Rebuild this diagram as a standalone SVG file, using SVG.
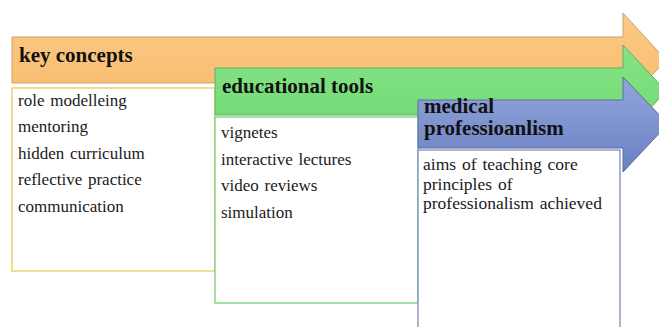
<svg xmlns="http://www.w3.org/2000/svg" width="659" height="327" viewBox="0 0 659 327">
  <defs>
    <linearGradient id="gOrange" x1="0" y1="0" x2="0" y2="1">
      <stop offset="0" stop-color="#fcc884"/>
      <stop offset="1" stop-color="#f8bd6e"/>
    </linearGradient>
    <linearGradient id="gGreen" x1="0" y1="0" x2="0" y2="1">
      <stop offset="0" stop-color="#86e486"/>
      <stop offset="1" stop-color="#6fd873"/>
    </linearGradient>
    <linearGradient id="gBlue" x1="0" y1="0" x2="0" y2="1">
      <stop offset="0" stop-color="#93a6dc"/>
      <stop offset="1" stop-color="#6a7fc2"/>
    </linearGradient>
  </defs>
  <style>
    .title { font-family: "Liberation Serif", "Times New Roman", serif; font-weight: bold; font-size: 21px; fill: #111; }
    .body { font-family: "Liberation Serif", "Times New Roman", serif; font-size: 17px; fill: #1a1a1a; word-spacing: 1.5px; }
    .body2 { font-family: "Liberation Serif", "Times New Roman", serif; font-size: 17.5px; fill: #1a1a1a; word-spacing: 1.5px; }
    .box { fill: #ffffff; stroke-width: 1.2; }
  </style>
  <rect width="659" height="327" fill="#ffffff"/>

  <g id="key-concepts">
    <path d="M12,37 H623 V13 L666,60 L623,107 V83 H12 Z" fill="url(#gOrange)" stroke="#c9a46a" stroke-width="1"/>
    <rect class="box" x="12" y="88" width="203" height="183" stroke="#e9c650"/>
    <text class="title" x="19" y="62">key concepts</text>
    <text class="body" x="18" y="106">role modelleing</text>
    <text class="body" x="18" y="132">mentoring</text>
    <text class="body" x="18" y="159">hidden curriculum</text>
    <text class="body" x="18" y="185">reflective practice</text>
    <text class="body" x="18" y="212">communication</text>
  </g>

  <g id="educational-tools">
    <path d="M215,68 H623 V45 L666,91 L623,138 V115 H215 Z" fill="url(#gGreen)" stroke="#5fb063" stroke-width="1"/>
    <rect class="box" x="215" y="117" width="203" height="186" stroke="#6ccf6c"/>
    <text class="title" x="222" y="93">educational tools</text>
    <text class="body" x="221" y="138">vignetes</text>
    <text class="body" x="221" y="165">interactive lectures</text>
    <text class="body" x="221" y="191">video reviews</text>
    <text class="body" x="221" y="218">simulation</text>
  </g>

  <g id="medical-professionalism">
    <path d="M418,100 H623 V77 L668,124 L623,172 V148 H418 Z" fill="url(#gBlue)" stroke="#5b6ca6" stroke-width="1"/>
    <rect class="box" x="418" y="150" width="202" height="190" stroke="#7484b4"/>
    <text class="title" x="424" y="113">medical</text>
    <text class="title" x="424" y="135">professioanlism</text>
    <text class="body2" x="423" y="170">aims of teaching core</text>
    <text class="body2" x="423" y="190">principles of</text>
    <text class="body2" x="423" y="209">professionalism achieved</text>
  </g>
</svg>
